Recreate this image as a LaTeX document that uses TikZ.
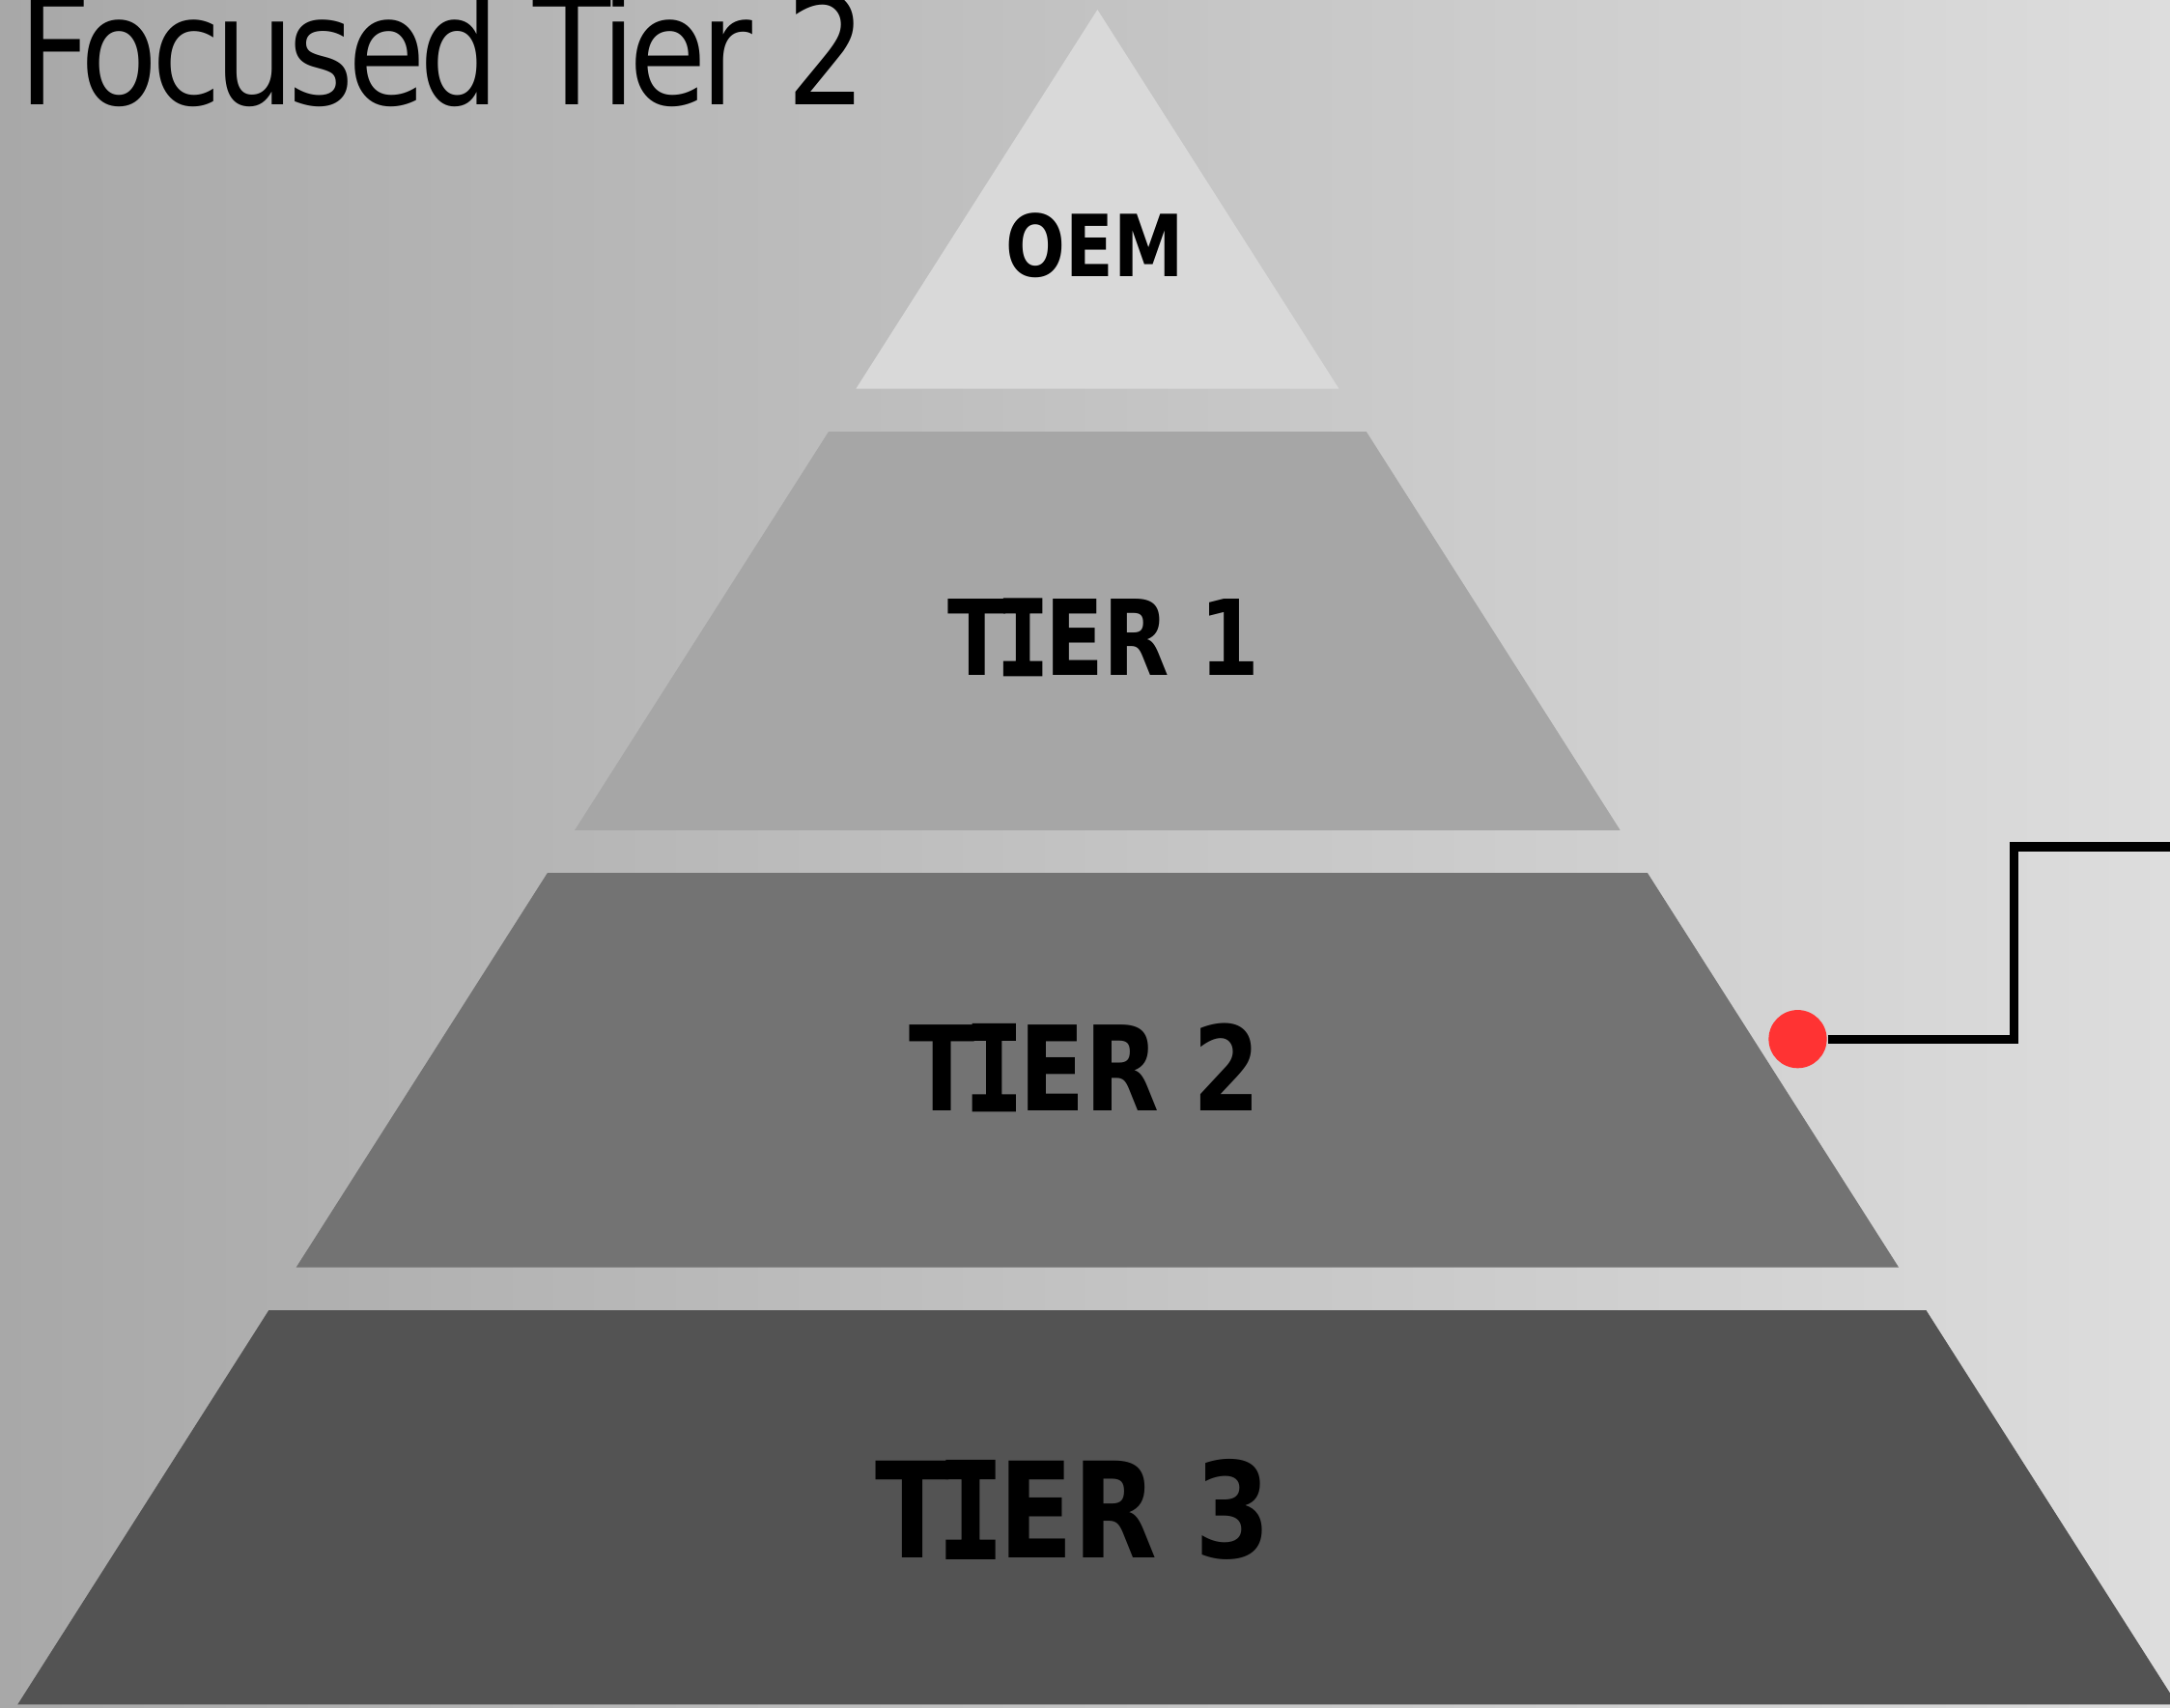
\documentclass[tikz,border=0pt]{standalone}
\usepackage{fontspec}
\setmainfont{DejaVu Sans}
\newfontfamily\titlefont[LetterSpace=-5]{DejaVu Sans}
\newfontfamily\monob[FakeBold=2]{DejaVu Sans Mono Bold}
\newcommand\tierI{\kern-0.11em{\monob I}\kern-0.04em}
\definecolor{bgL}{RGB}{168,168,168}
\definecolor{bgR}{RGB}{221,221,221}
\definecolor{oemfill}{HTML}{D9D9D9}
\definecolor{t1fill}{HTML}{A6A6A6}
\definecolor{t2fill}{HTML}{737373}
\definecolor{t3fill}{HTML}{535353}
\definecolor{dotred}{RGB}{255,51,51}
\begin{document}
\begin{tikzpicture}[x=0.01cm,y=-0.01cm,
  tierlabel/.style={inner sep=0pt, text=black, font=\bfseries, xscale=0.82},
  connector/.style={draw=black, line width=1.8pt, line join=miter}]
\useasboundingbox (0,0) rectangle (1568,1234);
\clip (0,0) rectangle (1568,1234);
\shade[left color=bgL, right color=bgR] (0,0) rectangle (1568,1234);
% pyramid levels (apex 793,7; half-width slope 0.637)
\fill[oemfill] (793,7) -- (967.5,281) -- (618.5,281) -- cycle;
\fill[t1fill] (598.7,312) -- (987.3,312) -- (1170.7,600) -- (415.3,600) -- cycle;
\fill[t2fill] (395.5,631) -- (1190.5,631) -- (1372,916) -- (214,916) -- cycle;
\fill[t3fill] (194.2,947) -- (1391.8,947) -- (1573.3,1232) -- (12.7,1232) -- cycle;
% labels
\node[tierlabel] (oem) at (791,177.5) {\fontsize{17.6}{21}\selectfont OEM};
\node[tierlabel] (tier1) at (797.5,460.5) {\fontsize{21.5}{26}\selectfont T\tierI ER 1};
\node[tierlabel] (tier2) at (784,771) {\fontsize{24.2}{29}\selectfont T\tierI ER 2};
\node[tierlabel] (tier3) at (775.5,1091) {\fontsize{27.3}{33}\selectfont T\tierI ER 3};
% title
\node[anchor=base west, inner sep=0pt, xscale=0.835] (title) at (13,75.6)
  {\titlefont\fontsize{31.1}{37}\selectfont Focused Tier 2};
% marker and connector
\node[circle, fill=dotred, minimum size=0.42cm, inner sep=0pt] (dot) at (1299,751) {};
\coordinate (bend) at (1455,612);
\coordinate (tip) at (1572,612);
\draw[connector] (dot.east) -| (bend) -- (tip);
\end{tikzpicture}
\end{document}
